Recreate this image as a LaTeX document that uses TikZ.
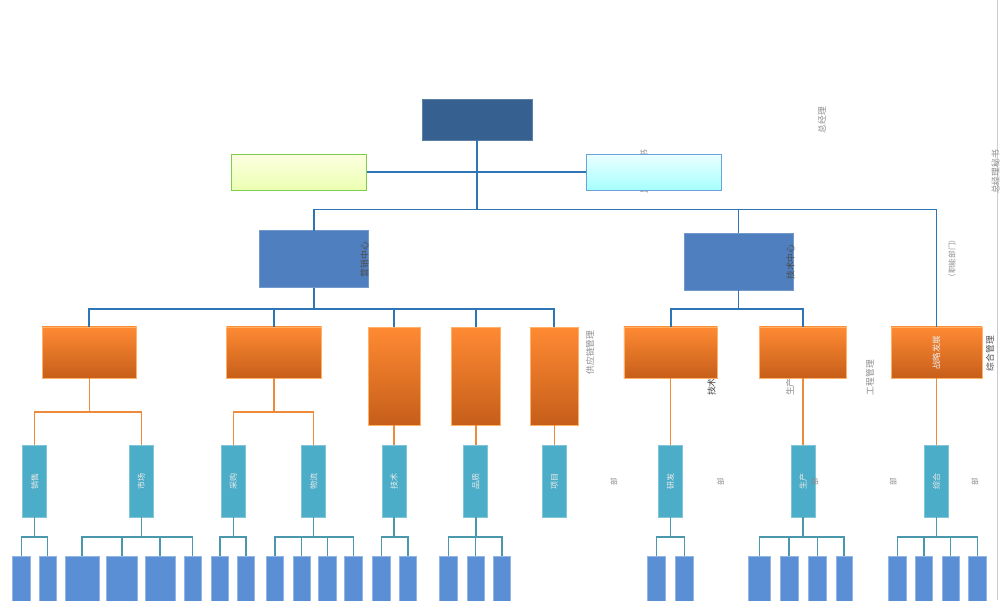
\documentclass[tikz,border=0pt]{standalone}
\usepackage{fontspec}
\usepackage{graphicx}
\setmainfont{Noto Sans CJK SC}
\def\pxu{0.02cm}
\definecolor{ceoblue}{HTML}{35608F}
\definecolor{midblue}{HTML}{4F7FBF}
\definecolor{unitblue}{HTML}{5A8FD6}
\definecolor{teamteal}{HTML}{4BADC7}
\definecolor{linkblue}{HTML}{2E75B6}
\definecolor{linkorange}{HTML}{EE8A3C}
\definecolor{linkteal}{HTML}{4A97AE}
\tikzset{
  sz/.style 2 args={minimum width=(#1)*\pxu, minimum height=(#2)*\pxu, inner sep=0pt, outer sep=0pt},
  ceobox/.style={draw=ceoblue!80!white, fill=ceoblue, line width=0.4pt},
  greenbox/.style={draw=green!45!olive!70!white, top color=green!8!yellow!12!white, bottom color=green!25!yellow!30!white, line width=0.5pt},
  cyanbox/.style={draw=cyan!60!blue!60!white, top color=cyan!8!white, bottom color=cyan!35!white, line width=0.5pt},
  centerbox/.style={draw=midblue!80!white, fill=midblue, line width=0.4pt},
  deptbox/.style={draw=orange!60!white, top color=orange!85!red!80!white, bottom color=orange!80!red!75!black!90, line width=0.5pt},
  teambox/.style={draw=teamteal!70!white, fill=teamteal, line width=0.5pt, text=white!85!gray, font=\fontsize{4.6}{5}\selectfont},
  unitbox/.style={draw=unitblue!65!white, fill=unitblue, line width=0.5pt},
  mainline/.style={draw=linkblue, line width=1.1pt},
  deptline/.style={draw=linkorange, line width=0.9pt},
  teamline/.style={draw=linkteal, line width=0.8pt},
  note/.style={rotate=90, inner sep=0pt, text=black!45, font=\fontsize{5}{6}\selectfont},
}
\begin{document}
\begin{tikzpicture}[x=0.02cm,y=-0.02cm]
\clip (0,0) rectangle (1000,600);
\draw[black!20, line width=0.5pt] (997.5,0) -- (997.5,600);
\node[note] (jsh) at (644,172) {监事会秘书};
\node[note, text=black!75] (jsy) at (711.5,374) {技术研发部};
\node[note] (scb) at (790,374) {生产管理部};

\node[ceobox, sz={110}{41}] (ceo) at (477,119.5) {};
\node[greenbox, sz={134.7}{36}] (gr) at (299.2,172) {};
\node[cyanbox, sz={134.7}{36}] (cy) at (653.8,172) {};
\node[centerbox, sz={109}{57}] (m1) at (313.8,259.2) {};
\node[centerbox, sz={109}{57}] (m2) at (738.5,261.7) {};

\node[deptbox, sz={94.6}{51.5}] (o1) at (89.3,352.7) {};
\node[deptbox, sz={95}{51.5}] (o2) at (274,352.7) {};
\node[deptbox, sz={52}{98}] (o3) at (394,376) {};
\node[deptbox, sz={48.4}{98}] (o4) at (475.8,376) {};
\node[deptbox, sz={47.2}{98}] (o5) at (554.4,376) {};
\node[deptbox, sz={93.3}{51.5}] (oA) at (670.6,352.7) {};
\node[deptbox, sz={87.4}{51.5}] (oB) at (803,352.7) {};
\node[deptbox, sz={91}{51.5}, text=white!85!gray, font=\fontsize{4.8}{5}\selectfont] (oC) at (936.5,352.7) {\rotatebox{90}{战略发展}};

\foreach \n/\x/\t in {t1/34.7/销售,t2/141.3/市场,t3/233.3/采购,t4/313.7/物流,t5/394/技术,t6/475.8/品质,t7/554.4/项目,t8/670.6/研发,t9/803/生产,t10/936.5/综合}
  \node[teambox, sz={24}{72}] (\n) at (\x,481.3) {\rotatebox{90}{\t}};

\foreach \p/\a/\b [count=\i] in {t1/12.7/30,t1/39/56,t2/65/99,t2/106.7/137.3,t2/145/175.3,t2/184/201.3,t3/211.3/228.7,t3/237.3/254.7,t4/266.3/283.7,t4/293/310,t4/318.7/336,t4/344.7/362,t5/372.7/390,t5/399.3/416.7,t6/439.7/457,t6/467/484.3,t6/493.3/510.7,t8/647.7/665,t8/675.7/693,t9/748.7/770.7,t9/780.3/798,t9/808.7/826,t9/836/852,t10/888.7/906,t10/915.3/932.7,t10/942/959.3,t10/968.7/986}
{
  \node[unitbox, sz={\b-\a}{64}] (u\i) at ({(\a+\b)/2},588) {};
  \draw[teamline] (\p.south) -- ++(0,19.5) -| (u\i.north);
}

\draw[mainline] (gr.east) -- (cy.west);
\draw[mainline] (ceo.south) -- ++(0,69.5) coordinate (hub);
\draw[mainline] (hub) -| (m1.north);
\draw[mainline] (hub) -| (m2.north);
\draw[mainline] (hub) -| (oC.north);
\foreach \o in {o1,o2,o3,o4,o5}
  \draw[mainline] (m1.south) -- ++(0,21.2) -| (\o.north);
\foreach \o in {oA,oB}
  \draw[mainline] (m2.south) -- ++(0,18.6) -| (\o.north);
\foreach \o/\t in {o1/t1,o1/t2,o2/t3,o2/t4}
  \draw[deptline] (\o.south) -- ++(0,33.3) -| (\t.north);
\foreach \o/\t in {o3/t5,o4/t6,o5/t7,oA/t8,oB/t9,oC/t10}
  \draw[deptline] (\o.south) -- (\t.north);

\node[note, text=black!70] (m1txt) at (364.5,259.5) {营销中心};
\node[note, text=black!70] (m2txt) at (790.5,262) {技术中心};
\node[note] (zjl) at (822,120) {总经理};
\node[note] (zjlms) at (995.5,172) {总经理秘书};
\node[note, font=\fontsize{4.3}{5}\selectfont] (znbm) at (952,258.5) {（职能部门）};
\node[note] (gyl) at (590,352.5) {供应链管理};
\node[note] (gcgl) at (870,377.5) {工程管理};
\node[note, text=black!70] (zhgl) at (990,353.5) {综合管理};
\foreach \x in {614,720.7,815,893.3,975}
  \node[note, font=\fontsize{4.3}{5}\selectfont] at (\x,482) {部};
\end{tikzpicture}
\end{document}
